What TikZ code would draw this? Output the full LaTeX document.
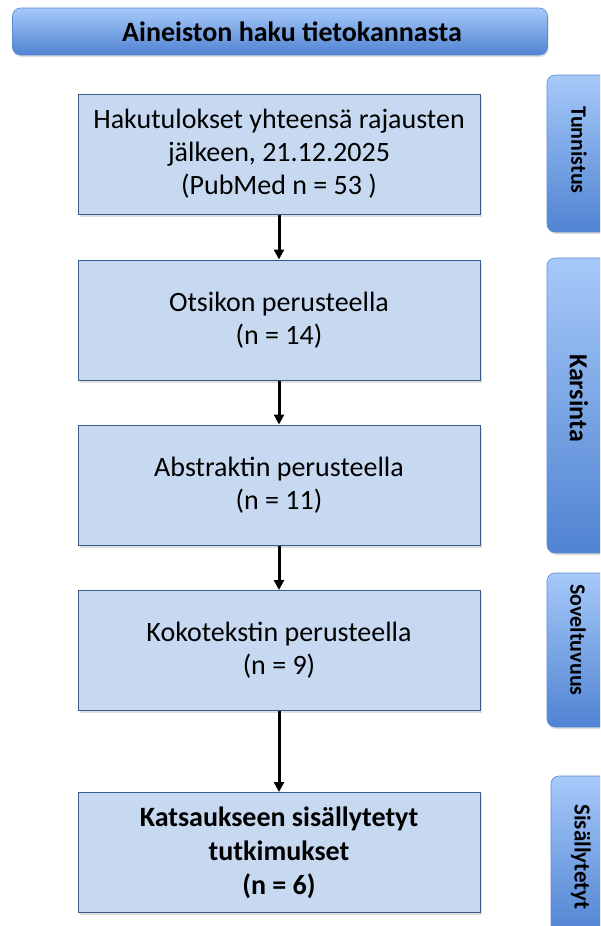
\documentclass[tikz,border=0pt]{standalone}
\usepackage{fontspec}
\setmainfont{Carlito}
\usetikzlibrary{shadows,arrows.meta}
\definecolor{boxfill}{HTML}{C6D9F1}
\definecolor{boxline}{HTML}{385D8A}
\definecolor{gradtop}{HTML}{A6C9F9}
\definecolor{gradbot}{HTML}{5083D2}
\definecolor{gradline}{HTML}{5C8BD0}
\begin{document}
\begin{tikzpicture}[x=1pt,y=-1pt,
  flowbox/.style={draw=boxline, line width=1pt, fill=boxfill,
    minimum width=402pt, minimum height=120pt, inner sep=0pt, align=center,
    font=\fontsize{28}{33}\selectfont,
    drop shadow={opacity=0.25, shadow xshift=1.5pt, shadow yshift=-2.5pt}},
  gradbox/.style={draw=gradline, line width=0.6pt, rounded corners=8pt,
    top color=gradtop, bottom color=gradbot, inner sep=0pt,
    drop shadow={opacity=0.25, shadow xshift=1pt, shadow yshift=-2pt}},
  tablabel/.style={rotate=-90, inner sep=0pt, font=\bfseries},
  arr/.style={line width=3pt, -{Triangle[length=10pt,width=10pt]}}]
\clip (0,0) rectangle (600,926);
\fill[white] (0,0) rectangle (600,926);
% banner
\node[gradbox, minimum width=535pt, minimum height=47pt,
  font=\fontsize{28}{30}\selectfont\bfseries] (banner) at (280,31.5) {\hspace*{24pt}Aineiston haku tietokannasta};
% side tabs
\node[gradbox, minimum width=62pt, minimum height=157pt] (t1) at (578,153.5) {};
\node[gradbox, minimum width=62pt, minimum height=295pt] (t2) at (578,405.5) {};
\node[gradbox, minimum width=62pt, minimum height=154pt] (t3) at (578,650) {};
\node[gradbox, minimum width=62pt, minimum height=160pt] (t4) at (582,856) {};
\node[tablabel, font=\fontsize{22}{24}\selectfont\bfseries] (l1) at (579,150) {Tunnistus};
\node[tablabel, font=\fontsize{26}{28}\selectfont\bfseries] (l2) at (579,398) {Karsinta};
\node[tablabel, font=\fontsize{22}{24}\selectfont\bfseries] (l3) at (578,640) {Soveltuvuus};
\node[tablabel, font=\fontsize{23}{26}\selectfont\bfseries] (l4) at (581,857) {Sisällytetyt};
% flow boxes
\node[flowbox] (b1) at (279,154) {Hakutulokset yhteensä rajausten\\jälkeen, 21.12.2025\\(PubMed n = 53 )};
\node[flowbox] (b2) at (279,320) {Otsikon perusteella\\(n = 14)};
\node[flowbox] (b3) at (279,485) {Abstraktin perusteella\\(n = 11)};
\node[flowbox] (b4) at (279,650.5) {Kokotekstin perusteella\\(n = 9)};
\node[flowbox, font=\fontsize{28}{34}\selectfont\bfseries] (b5) at (279,852.5) {Katsaukseen sisällytetyt\\tutkimukset\\(n = 6)};
% arrows
\draw[arr] (b1) -- (b2);
\draw[arr] (b2) -- (b3);
\draw[arr] (b3) -- (b4);
\draw[arr] (b4) -- (b5);
\end{tikzpicture}
\end{document}
